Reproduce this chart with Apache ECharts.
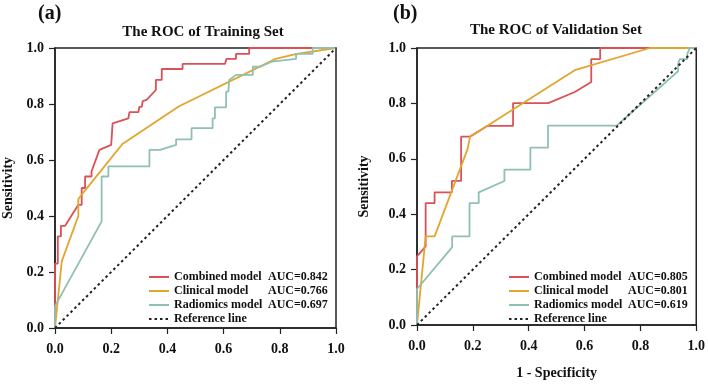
<!DOCTYPE html>
<html>
<head>
<meta charset="utf-8">
<script src="https://cdn.jsdelivr.net/npm/echarts@6/dist/echarts.min.js"></script>
<style>
  html, body { margin: 0; padding: 0; background: #fff; }
  #main { width: 708px; height: 385px; }
</style>
</head>
<body>
<div id="main"></div>
<script>
// Training set ROC curves (1 - specificity, sensitivity)
var trainCombinedFpr = [0, 0, 0.01, 0.01, 0.021, 0.021, 0.036, 0.083, 0.095, 0.095, 0.107, 0.107, 0.13, 0.13, 0.158, 0.2, 0.205, 0.261, 0.265, 0.297, 0.3, 0.309, 0.312, 0.326, 0.359, 0.359, 0.38, 0.38, 0.454, 0.454, 0.605, 0.61, 0.644, 0.644, 0.691, 0.691, 1];
var trainCombinedTpr = [0, 0.23, 0.23, 0.327, 0.327, 0.365, 0.365, 0.44, 0.44, 0.5, 0.5, 0.541, 0.541, 0.559, 0.636, 0.654, 0.731, 0.749, 0.771, 0.771, 0.79, 0.79, 0.81, 0.815, 0.85, 0.886, 0.886, 0.925, 0.925, 0.943, 0.943, 0.961, 0.961, 0.979, 0.979, 1, 1];
var trainClinicalFpr = [0, 0.024, 0.083, 0.083, 0.09, 0.24, 0.44, 0.785, 0.86, 1];
var trainClinicalTpr = [0, 0.238, 0.4, 0.46, 0.47, 0.657, 0.791, 0.961, 0.979, 1];
var trainRadiomicsFpr = [0, 0, 0.166, 0.166, 0.19, 0.19, 0.336, 0.336, 0.374, 0.431, 0.431, 0.486, 0.486, 0.561, 0.561, 0.569, 0.569, 0.609, 0.609, 0.617, 0.62, 0.644, 0.704, 0.704, 0.73, 0.771, 0.858, 0.858, 0.917, 0.917, 1];
var trainRadiomicsTpr = [0, 0.078, 0.381, 0.541, 0.541, 0.577, 0.577, 0.636, 0.636, 0.654, 0.674, 0.674, 0.714, 0.714, 0.749, 0.749, 0.788, 0.788, 0.844, 0.844, 0.886, 0.904, 0.904, 0.933, 0.933, 0.951, 0.961, 0.979, 0.979, 1, 1];

// Validation set ROC curves
var validCombinedFpr = [0, 0, 0.031, 0.031, 0.063, 0.063, 0.125, 0.125, 0.158, 0.158, 0.19, 0.253, 0.344, 0.344, 0.47, 0.565, 0.624, 0.624, 0.656, 0.656, 1];
var validCombinedTpr = [0, 0.248, 0.284, 0.44, 0.44, 0.479, 0.479, 0.52, 0.52, 0.68, 0.68, 0.719, 0.719, 0.801, 0.801, 0.841, 0.877, 0.96, 0.96, 1, 1];
var validClinicalFpr = [0, 0.031, 0.063, 0.181, 0.19, 0.565, 0.834, 1];
var validClinicalTpr = [0, 0.32, 0.32, 0.635, 0.68, 0.92, 1, 1];
var validRadiomicsFpr = [0, 0, 0.126, 0.126, 0.188, 0.188, 0.221, 0.221, 0.313, 0.313, 0.406, 0.406, 0.469, 0.469, 0.715, 0.935, 0.935, 0.941, 0.968, 0.968, 0.977, 1];
var validRadiomicsTpr = [0, 0.13, 0.281, 0.32, 0.32, 0.44, 0.44, 0.479, 0.52, 0.561, 0.561, 0.64, 0.64, 0.72, 0.72, 0.916, 0.943, 0.96, 0.96, 0.979, 1, 1];

var refFpr = [0, 1];
var refTpr = [0, 1];

var modelNames = ['Combined model', 'Clinical model', 'Radiomics model', 'Reference line'];
var aucTrain = ['0.842', '0.766', '0.697'];
var aucValid = ['0.805', '0.801', '0.619'];

var colors = ['#DA5157', '#E2A52D', '#8FC0B2'];
var font = '"Liberation Serif", "Times New Roman", serif';

function zip(xs, ys) {
  return xs.map(function (x, i) { return [x, ys[i]]; });
}

var myChart = echarts.init(document.getElementById('main'));

function xAxisFor(idx, withName) {
  return {
    type: 'value', gridIndex: idx, min: 0, max: 1, interval: 0.2,
    name: withName ? '1 - Specificity' : '',
    nameLocation: 'middle', nameGap: 41,
    nameTextStyle: { fontFamily: font, fontWeight: 'bold', fontSize: 14, color: '#111' },
    axisLine: { lineStyle: { color: '#222', width: 1.5 } },
    axisTick: { show: true, length: 6, lineStyle: { color: '#222', width: 1.2 } },
    axisLabel: {
      margin: 14, fontFamily: font, fontWeight: 'bold', fontSize: 14, color: '#111',
      formatter: function (v) { return v.toFixed(1); }
    },
    splitLine: { show: false }
  };
}

function yAxisFor(idx, gap) {
  return {
    type: 'value', gridIndex: idx, min: 0, max: 1, interval: 0.2,
    name: 'Sensitivity', nameLocation: 'middle', nameGap: gap,
    nameTextStyle: { fontFamily: font, fontWeight: 'bold', fontSize: 14, color: '#111' },
    axisLine: { lineStyle: { color: '#222', width: 1.5 } },
    axisTick: { show: true, length: 6, lineStyle: { color: '#222', width: 1.2 } },
    axisLabel: {
      margin: 11, fontFamily: font, fontWeight: 'bold', fontSize: 14, color: '#111',
      formatter: function (v) { return v.toFixed(1); }
    },
    splitLine: { show: false }
  };
}

function legendFor(left, aucs) {
  return {
    orient: 'vertical', left: left, top: 265,
    itemWidth: 20, itemHeight: 10, itemGap: 0,
    data: modelNames,
    selectedMode: false,
    itemStyle: { opacity: 0 },
    formatter: function (name) {
      var i = modelNames.indexOf(name);
      if (i < 3) return '{a|' + name + '}{b|AUC=' + aucs[i] + '}';
      return '{a|' + name + '}';
    },
    textStyle: {
      fontFamily: font, fontWeight: 'bold', fontSize: 12, color: '#111', lineHeight: 14,
      rich: {
        a: { width: 94, fontFamily: font, fontWeight: 'bold', fontSize: 12, color: '#111' },
        b: { fontFamily: font, fontWeight: 'bold', fontSize: 12, color: '#111' }
      }
    }
  };
}

function lineSeries(name, idx, data, color) {
  return {
    name: name, type: 'line', xAxisIndex: idx, yAxisIndex: idx,
    data: data, symbol: 'none', showSymbol: false, animation: false,
    lineStyle: { color: color, width: 1.8 }, itemStyle: { color: color }
  };
}

function refSeries(idx) {
  return {
    name: 'Reference line', type: 'line', xAxisIndex: idx, yAxisIndex: idx,
    data: zip(refFpr, refTpr), symbol: 'none', showSymbol: false, animation: false, z: 3,
    lineStyle: { color: '#222', width: 2, type: [2.5, 3] }, itemStyle: { color: '#222' }
  };
}

var option = {
  backgroundColor: '#fff',
  animation: false,
  title: [
    { text: '(a)', left: 33, top: -1, textStyle: { fontFamily: font, fontWeight: 'bold', fontSize: 20, color: '#111' } },
    { text: '(b)', left: 388, top: -1, textStyle: { fontFamily: font, fontWeight: 'bold', fontSize: 20, color: '#111' } },
    { text: 'The ROC of Training Set', left: 198, top: 20, textAlign: 'center',
      textStyle: { fontFamily: font, fontWeight: 'bold', fontSize: 15, color: '#111' } },
    { text: 'The ROC of Validation Set', left: 551, top: 18, textAlign: 'center',
      textStyle: { fontFamily: font, fontWeight: 'bold', fontSize: 15, color: '#111' } }
  ],
  legend: [legendFor(143, aucTrain), legendFor(503, aucValid)],
  grid: [
    { left: 55, top: 48, width: 281, height: 280, show: true, borderColor: '#222', borderWidth: 1.5, backgroundColor: 'transparent' },
    { left: 417, top: 48, width: 281, height: 282, show: true, borderColor: '#222', borderWidth: 1.5, backgroundColor: 'transparent' }
  ],
  xAxis: [xAxisFor(0, false), xAxisFor(1, true)],
  yAxis: [yAxisFor(0, 40), yAxisFor(1, 46)],
  series: [
    lineSeries('Combined model', 0, zip(trainCombinedFpr, trainCombinedTpr), colors[0]),
    lineSeries('Clinical model', 0, zip(trainClinicalFpr, trainClinicalTpr), colors[1]),
    lineSeries('Radiomics model', 0, zip(trainRadiomicsFpr, trainRadiomicsTpr), colors[2]),
    refSeries(0),
    lineSeries('Combined model', 1, zip(validCombinedFpr, validCombinedTpr), colors[0]),
    lineSeries('Clinical model', 1, zip(validClinicalFpr, validClinicalTpr), colors[1]),
    lineSeries('Radiomics model', 1, zip(validRadiomicsFpr, validRadiomicsTpr), colors[2]),
    refSeries(1)
  ]
};

myChart.setOption(option);
window.addEventListener('resize', function () {
  myChart.resize();
});
</script>
</body>
</html>
